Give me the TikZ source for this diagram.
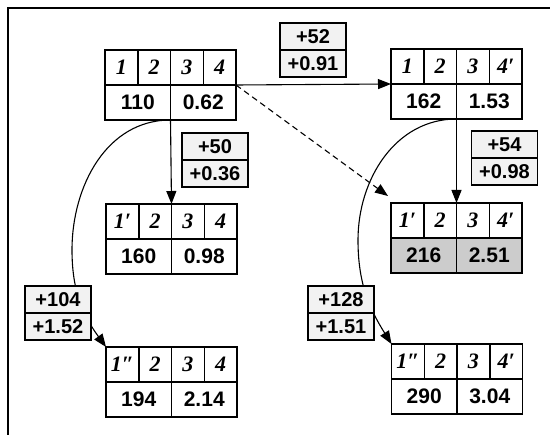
\documentclass[tikz,border=0pt]{standalone}
\usepackage{fontspec}
\setmainfont{Liberation Serif}
\setsansfont{Liberation Sans}
\usetikzlibrary{
    arrows.meta,
    positioning,
    calc
}
\tikzset{
    % --- Header cell (item indices, italic) ---
    hcell/.style = {
        rectangle, draw, line width=1.5pt,
        minimum width=32.75pt, minimum height=35pt,
        inner sep=0pt, outer sep=0pt,
        font=\fontsize{22}{22}\selectfont\rmfamily\bfseries\itshape
    },
    % --- Value cell (cost / score) ---
    vcell/.style = {
        rectangle, draw, line width=1.5pt,
        minimum width=65.5pt, minimum height=35pt,
        inner sep=0pt, outer sep=0pt,
        font=\fontsize{21}{21}\selectfont\sffamily\bfseries
    },
    % --- Best state (shaded values) ---
    best/.style = {
        fill=gray!40
    },
    % --- Increment label cell ---
    dcell/.style = {
        rectangle, draw, line width=1.5pt, fill=gray!10,
        minimum width=66pt, minimum height=27pt,
        inner sep=0pt, outer sep=0pt,
        font=\fontsize{20}{20}\selectfont\sffamily\bfseries
    },
    % --- Move arrow ---
    move/.style = {
        -{Triangle[length=13pt, width=10pt]}, line width=1.1pt
    },
    % --- Frame border ---
    frame/.style = {
        line width=1.6pt
    }
}

% state box: [value style]{name}{position}{h1}{h2}{h3}{h4}{v1}{v2}
\newcommand{\statebox}[9][]{%
    \coordinate (#2) at (#3);
    \node[hcell, anchor=south east] (#2-h2) at (#2) {#5};
    \node[hcell, left=0pt of #2-h2] (#2-h1) {#4};
    \node[hcell, anchor=south west] (#2-h3) at (#2) {#6};
    \node[hcell, right=0pt of #2-h3] (#2-h4) {#7};
    \node[vcell, #1, anchor=north east] (#2-v1) at (#2) {#8};
    \node[vcell, #1, anchor=north west] (#2-v2) at (#2) {#9};
}

% increment box: {name}{position}{top}{bottom}
\newcommand{\deltabox}[4]{%
    \node[dcell, anchor=south] (#1-t) at (#2) {#3};
    \node[dcell, anchor=north] (#1-b) at (#2) {#4};
}

\begin{document}
\begin{tikzpicture}[x=1pt, y=1pt, >=Stealth]

\useasboundingbox (0,0) rectangle (550,-435);

% ---------------------------------------------------------
% Frame (left and top edges)
% ---------------------------------------------------------
\coordinate (fBL) at (8,-435);
\coordinate (fTL) at (8,-8);
\coordinate (fTR) at (550,-8);
\draw[frame] (fBL) -- (fTL) -- (fTR);

% ---------------------------------------------------------
% States
% ---------------------------------------------------------
\statebox{A}{170.5,-85}{1}{2}{3}{4}{110}{0.62}
\statebox{B}{456.5,-84}{1}{2}{3}{4′}{162}{1.53}
\statebox{C}{171.5,-239}{1′}{2}{3}{4}{160}{0.98}
\statebox[best]{D}{456.5,-238}{1′}{2}{3}{4′}{216}{2.51}
\statebox{E}{171.5,-382}{1″}{2}{3}{4}{194}{2.14}
\statebox{F}{457,-379}{1″}{2}{3}{4′}{290}{3.04}

% ---------------------------------------------------------
% Single moves
% ---------------------------------------------------------
\draw[move] (A-h4.south east) -- (B-h1.south west);
\draw[move] (A-v1.south east) -- (C-h2.north east);
\draw[move] (B-v1.south east) -- (D-h2.north east);
\draw[move, dash pattern=on 6pt off 4pt] (A-h4.south east)
    -- ($(D-h1.north west)+(-3,7)$);

% ---------------------------------------------------------
% Double moves (curved)
% ---------------------------------------------------------
\coordinate (lBend) at (72,-250);
\coordinate (rBend) at (358,-240);
\draw[move] (A-v1.south east) to[out=180, in=90] (lBend)
    to[out=-90, in=126] (E-h1.north west);
\draw[move] (B-v1.south east) to[out=180, in=90] (rBend)
    to[out=-90, in=122] (F-h1.north west);

% ---------------------------------------------------------
% Increments
% ---------------------------------------------------------
\deltabox{dAB}{313,-50}{+52}{+0.91}
\deltabox{dAC}{215,-160}{+50}{+0.36}
\deltabox{dBD}{504.5,-158}{+54}{+0.98}
\deltabox{dAE}{58,-313}{+104}{+1.52}
\deltabox{dBF}{341,-313}{+128}{+1.51}

\end{tikzpicture}
\end{document}
